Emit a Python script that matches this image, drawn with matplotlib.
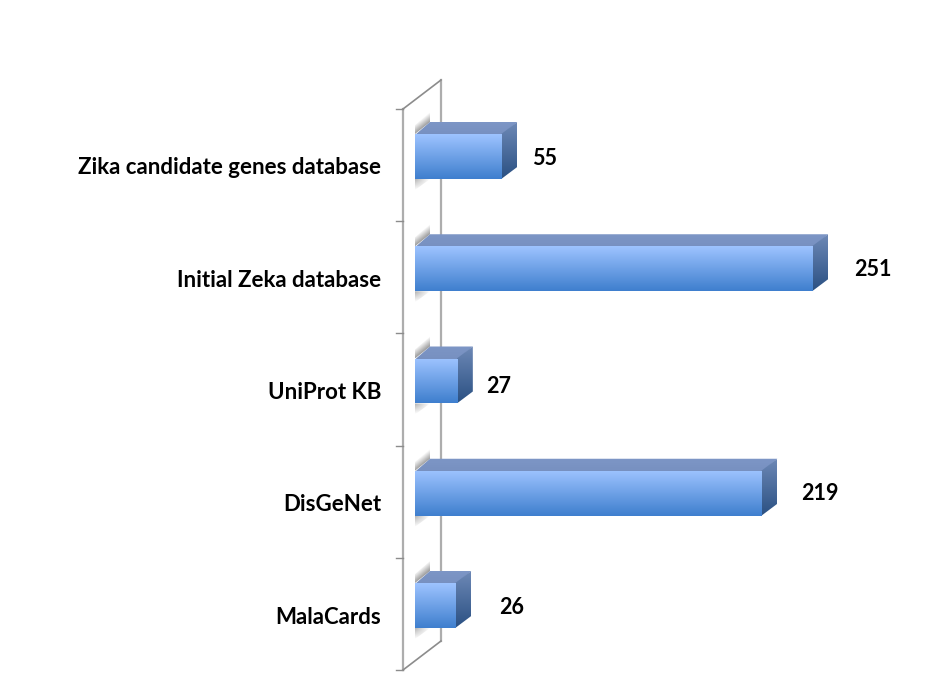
import matplotlib
matplotlib.use("Agg")
import matplotlib.pyplot as plt
from matplotlib.colors import LinearSegmentedColormap
from matplotlib.patches import Polygon
import numpy as np

plt.rcParams['font.family'] = ['Lato', 'DejaVu Sans']

categories = ["MalaCards", "DisGeNet", "UniProt KB", "Initial Zeka database", "Zika candidate genes database"]
values = [26, 219, 27, 251, 55]

# nudges of the value labels, in pixels from the end of the front face
label_dx = [55, 58, 41, 60, 42]
label_dy = [-2.5, -0.5, -5.5, -0.5, -2.5]

W, H = 938, 698
X0, PX_PER_UNIT = 415, 1.586
Y0, PX_PER_CAT = 605.5, 112.25
BAR_H = 45 / PX_PER_CAT
DEPTH_X, DEPTH_Y = 15, 12


def dx(px):
    return (px - X0) / PX_PER_UNIT


def dy(py):
    return (Y0 - py) / PX_PER_CAT


def pts(*xy):
    return [(dx(x), dy(y)) for x, y in xy]


def gradient_poly(ax, xy, top, bottom, z):
    # vertical gradient clipped to a polygon
    poly = Polygon(xy, closed=True, facecolor='none', edgecolor='none', transform=ax.transData)
    ax.add_patch(poly)
    xs = [p[0] for p in xy]
    ys = [p[1] for p in xy]
    cmap = LinearSegmentedColormap.from_list("g", [bottom, top])
    im = ax.imshow(np.linspace(1, 0, 64).reshape(-1, 1), cmap=cmap, aspect='auto', zorder=z,
                   extent=(min(xs), max(xs), min(ys), max(ys)), vmin=0, vmax=1, interpolation='bilinear')
    im.set_clip_path(poly)


def shadow(ax, x0, x1, y0, y1, alpha, clip_xy):
    poly = Polygon(clip_xy, closed=True, facecolor='none', edgecolor='none', transform=ax.transData)
    ax.add_patch(poly)
    rgba = np.zeros(alpha.shape + (4,))
    rgba[..., :3] = 0.55
    rgba[..., 3] = alpha
    im = ax.imshow(rgba, aspect='auto', zorder=2, extent=(dx(x0), dx(x1), dy(y1), dy(y0)), interpolation='bilinear')
    im.set_clip_path(poly)


fig = plt.figure(figsize=(W / 100, H / 100), dpi=100)
ax = fig.add_axes([0, 0, 1, 1])

# wall of the 3d plot
wall_color = "#adadad"
ax.add_patch(Polygon(pts((403, 109), (441, 80), (441, 641), (403, 670)), closed=True, facecolor='white', edgecolor='none', zorder=1))
for a, b, c, lw in [((403, 109), (403, 670), wall_color, 1.6),
                    ((441, 80), (441, 641), wall_color, 1.6),
                    ((403, 109), (441, 80), "#8c8c8c", 1.2),
                    ((403, 670), (441, 641), "#8c8c8c", 1.2)]:
    p = pts(a, b)
    ax.plot([p[0][0], p[1][0]], [p[0][1], p[1][1]], color=c, lw=lw, zorder=1.5)
for i in range(len(categories) + 1):
    ty = dy(670) + i * (dy(109) - dy(670)) / len(categories)
    ax.plot([dx(396), dx(403)], [ty, ty], color="#8c8c8c", lw=1.0, zorder=1.5)

bars = ax.barh(range(len(categories)), values, height=BAR_H, color='none', zorder=3)

for i, (bar, v) in enumerate(zip(bars, values)):
    x1 = bar.get_width()
    y0 = bar.get_y()
    y1 = y0 + bar.get_height()
    ddx = DEPTH_X / PX_PER_UNIT
    ddy = DEPTH_Y / PX_PER_CAT
    lap_x = 1 / PX_PER_UNIT
    lap_y = 1 / PX_PER_CAT

    # soft shadows on the wall, above and below the bar
    top_px = Y0 - y1 * PX_PER_CAT
    bot_px = Y0 - y0 * PX_PER_CAT
    u, t = np.meshgrid(np.linspace(0, 1, 30), np.linspace(0, 1, 44))
    edge = 1 - u * DEPTH_Y / 22
    shadow(ax, X0, X0 + DEPTH_X, top_px - 22, top_px, np.clip(0.85 * (1 - (edge - t) * 22 / 10), 0, 0.85),
           pts((X0, top_px), (X0 + DEPTH_X, top_px - DEPTH_Y), (X0 + DEPTH_X, top_px - 22), (X0, top_px - 9)))
    shadow(ax, X0, X0 + DEPTH_X, bot_px, bot_px + 11, np.clip(0.7 * (1 - t) * (1 - u), 0, 0.7),
           pts((X0, bot_px), (X0 + DEPTH_X, bot_px), (X0, bot_px + 11)))

    # faces of the bar, front last so it covers the seams
    front = [(0, y0), (x1, y0), (x1, y1), (0, y1)]
    top = [(0, y1 - lap_y), (x1, y1 - lap_y), (x1 + ddx, y1 + ddy), (ddx, y1 + ddy)]
    side = [(x1 - lap_x, y0), (x1 + ddx, y0 + ddy), (x1 + ddx, y1 + ddy), (x1 - lap_x, y1)]
    gradient_poly(ax, top, "#7d96c6", "#7790c0", 3)
    gradient_poly(ax, side, "#6d88b6", "#2b5183", 3)
    gradient_poly(ax, front, "#9dc3ff", "#3f7fce", 3)

    ax.annotate(str(v), (x1, i), xytext=(label_dx[i], label_dy[i]), textcoords='offset pixels',
                ha='center', va='center', fontsize=15.5, fontweight='bold', color='black', zorder=5)
    ax.annotate(categories[i], (dx(381), i), xytext=(0, -11.5), textcoords='offset pixels',
                ha='right', va='center', fontsize=16, fontweight='bold', color='black', zorder=5)

ax.set_xlim(dx(0), dx(W))
ax.set_ylim(dy(H), dy(0))
ax.axis('off')

plt.savefig('out.png', dpi=100, facecolor='white')
